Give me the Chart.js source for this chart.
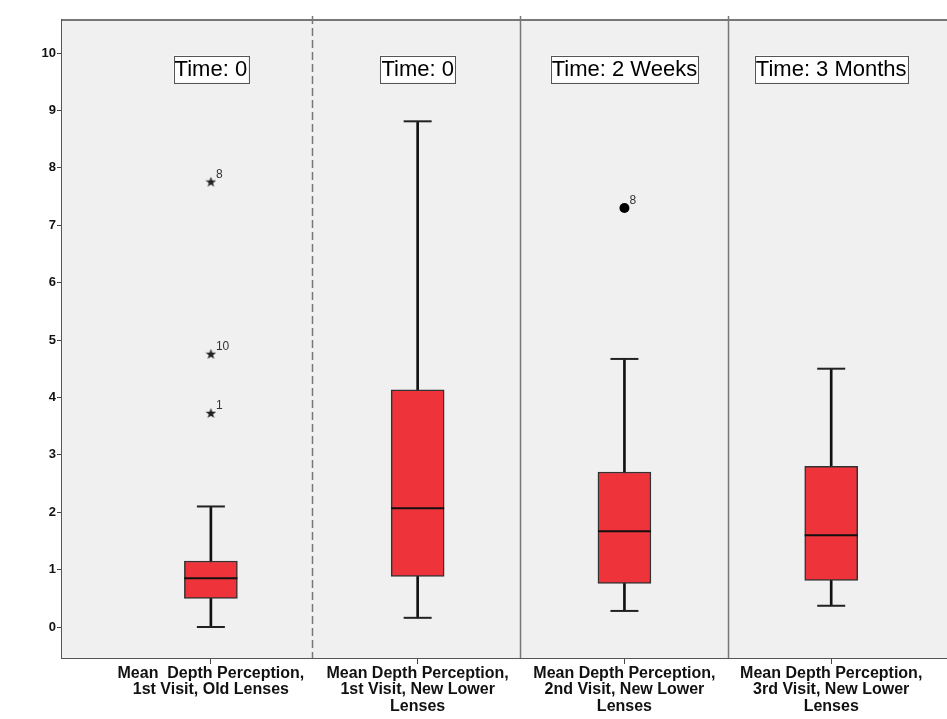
<!DOCTYPE html>
<html>
<head>
<meta charset="utf-8">
<script src="https://cdn.jsdelivr.net/npm/chart.js@4.4.1/dist/chart.umd.min.js"></script>
<style>
  html, body { margin: 0; padding: 0; background: #fff; }
  #wrap { position: relative; width: 947px; height: 719px; }
</style>
</head>
<body>
<div id="wrap"><canvas id="chart"></canvas></div>
<script>
// categories (multi-line tick labels) and panel headings
const categories = [
  ['Mean  Depth Perception,', '1st Visit, Old Lenses'],
  ['Mean Depth Perception,', '1st Visit, New Lower', 'Lenses'],
  ['Mean Depth Perception,', '2nd Visit, New Lower', 'Lenses'],
  ['Mean Depth Perception,', '3rd Visit, New Lower', 'Lenses']
];
const panelTitles = ['Time: 0', 'Time: 0', 'Time: 2 Weeks', 'Time: 3 Months'];

// box plot summaries per category
const whiskerLow  = [0.00, 0.16, 0.28, 0.37];
const quartile1   = [0.50, 0.88, 0.76, 0.81];
const medians     = [0.85, 2.07, 1.67, 1.60];
const quartile3   = [1.15, 4.13, 2.70, 2.80];
const whiskerHigh = [2.10, 8.81, 4.67, 4.50];

// extreme values (stars) and outliers (circles) with case numbers
const extremeCat  = [0, 0, 0];
const extremeVal  = [7.75, 4.75, 3.72];
const extremeCase = ['8', '10', '1'];
const outlierCat  = [2];
const outlierVal  = [7.30];
const outlierCase = ['8'];

const yTicks = [0, 1, 2, 3, 4, 5, 6, 7, 8, 9, 10];

const FONT = '"Liberation Sans", Arial, sans-serif';

function makeStar(size) {
  const c = document.createElement('canvas');
  c.width = c.height = size;
  const g = c.getContext('2d');
  g.fillStyle = '#222';
  g.beginPath();
  const R = size / 2, r = R * 0.42;
  for (let i = 0; i < 10; i++) {
    const a = -Math.PI / 2 + i * Math.PI / 5;
    const rr = i % 2 ? r : R;
    g.lineTo(R + rr * Math.cos(a), R + rr * Math.sin(a));
  }
  g.closePath();
  g.fill();
  return c;
}

const idx = categories.map((_, i) => i);

const panelPlugin = {
  id: 'panels',
  beforeDatasetsDraw(chart, args, opts) {
    const { ctx, chartArea: a, scales: { x } } = chart;
    ctx.save();
    ctx.fillStyle = '#f0f0f0';
    ctx.fillRect(a.left, a.top, a.right - a.left, a.bottom - a.top);
    ctx.strokeStyle = '#777';
    ctx.lineWidth = 2;
    ctx.beginPath();
    ctx.moveTo(a.left, a.top);
    ctx.lineTo(a.right, a.top);
    ctx.stroke();
    opts.dividers.forEach(d => {
      const px = Math.round(x.getPixelForValue(d.at)) + 0.5;
      ctx.strokeStyle = '#777';
      ctx.lineWidth = 1.5;
      ctx.setLineDash(d.dash || []);
      ctx.beginPath();
      ctx.moveTo(px, a.top - 4);
      ctx.lineTo(px, a.bottom);
      ctx.stroke();
    });
    ctx.restore();
  },
  afterDatasetsDraw(chart, args, opts) {
    const { ctx, scales: { x, y } } = chart;
    ctx.save();
    // panel headings
    ctx.font = '22px ' + FONT;
    ctx.textBaseline = 'middle';
    ctx.textAlign = 'center';
    panelTitles.forEach((t, i) => {
      const cx = x.getPixelForValue(i);
      const cy = y.getPixelForValue(opts.titleAt);
      const w = ctx.measureText(t).width + 2;
      ctx.fillStyle = '#fff';
      ctx.fillRect(cx - w / 2, cy - 13, w, 27);
      ctx.strokeStyle = '#555';
      ctx.lineWidth = 1;
      ctx.strokeRect(Math.round(cx - w / 2) + 0.5, Math.round(cy - 13) + 0.5, Math.round(w), 27);
      ctx.fillStyle = '#000';
      ctx.fillText(t, cx, cy + 1);
    });
    // case numbers beside outliers
    ctx.font = '12px ' + FONT;
    ctx.fillStyle = '#333';
    ctx.textAlign = 'left';
    ctx.textBaseline = 'alphabetic';
    chart.data.datasets.forEach((ds, di) => {
      if (!ds.caseLabels) return;
      chart.getDatasetMeta(di).data.forEach((el, k) => {
        ctx.fillText(ds.caseLabels[k], el.x + 5, el.y - 4);
      });
    });
    ctx.restore();
  }
};

new Chart(document.getElementById('chart'), {
  type: 'bar',
  data: {
    datasets: [
      {
        label: 'whiskers',
        data: idx.map(i => ({ x: i, y: [whiskerLow[i], whiskerHigh[i]] })),
        backgroundColor: '#111',
        borderWidth: 0,
        barThickness: 2,
        grouped: false,
        order: 5
      },
      {
        label: 'boxes',
        data: idx.map(i => ({ x: i, y: [quartile1[i], quartile3[i]] })),
        backgroundColor: '#ef333a',
        borderColor: '#333',
        borderWidth: 1.5,
        borderSkipped: false,
        barThickness: 53,
        grouped: false,
        order: 4
      },
      {
        type: 'scatter',
        label: 'caps',
        data: idx.flatMap(i => [{ x: i, y: whiskerLow[i] }, { x: i, y: whiskerHigh[i] }]),
        pointStyle: 'line',
        pointRadius: 14,
        borderColor: '#222',
        borderWidth: 2,
        order: 2
      },
      {
        type: 'scatter',
        label: 'medians',
        data: idx.map(i => ({ x: i, y: medians[i] })),
        pointStyle: 'line',
        pointRadius: 26.5,
        borderColor: '#111',
        borderWidth: 2,
        order: 1
      },
      {
        type: 'scatter',
        label: 'extremes',
        data: extremeVal.map((v, k) => ({ x: extremeCat[k], y: v })),
        pointStyle: makeStar(11),
        pointRadius: 5.5,
        caseLabels: extremeCase,
        order: 0
      },
      {
        type: 'scatter',
        label: 'outliers',
        data: outlierVal.map((v, k) => ({ x: outlierCat[k], y: v })),
        pointStyle: 'circle',
        pointRadius: 5,
        backgroundColor: '#000',
        borderColor: '#000',
        borderWidth: 0,
        caseLabels: outlierCase,
        order: 0
      }
    ]
  },
  options: {
    responsive: true,
    maintainAspectRatio: false,
    animation: false,
    events: [],
    layout: { autoPadding: false, padding: { top: 20, right: 0, left: 0, bottom: 0 } },
    plugins: {
      legend: { display: false },
      tooltip: { enabled: false },
      panels: {
        titleAt: 9.73,
        dividers: [{ at: 0.489, dash: [8, 4] }, { at: 1.495 }, { at: 2.5 }]
      }
    },
    scales: {
      x: {
        type: 'linear',
        min: -0.72,
        max: 3.56,
        offset: false,
        afterBuildTicks: s => { s.ticks = idx.map(i => ({ value: i })); },
        afterFit: s => { s.height = 61; s.paddingLeft = 0; s.paddingRight = 0; },
        ticks: {
          callback: v => categories[v],
          font: { family: FONT, size: 16, weight: 'bold', lineHeight: 1.03 },
          color: '#111',
          maxRotation: 0,
          autoSkip: false,
          padding: 1
        },
        grid: { drawOnChartArea: false, offset: false, tickLength: 6, color: '#444' },
        border: { color: '#555', width: 2 }
      },
      y: {
        min: -0.54,
        max: 10.575,
        afterBuildTicks: s => { s.ticks = yTicks.map(v => ({ value: v })); },
        afterFit: s => { s.width = 62; s.paddingTop = 0; s.paddingBottom = 0; },
        ticks: {
          font: { family: FONT, size: 13, weight: 'bold' },
          color: '#111',
          padding: 1
        },
        grid: { drawOnChartArea: false, tickLength: 5, color: '#444' },
        border: { color: '#555', width: 2 }
      }
    }
  },
  plugins: [panelPlugin]
});
</script>
</body>
</html>
